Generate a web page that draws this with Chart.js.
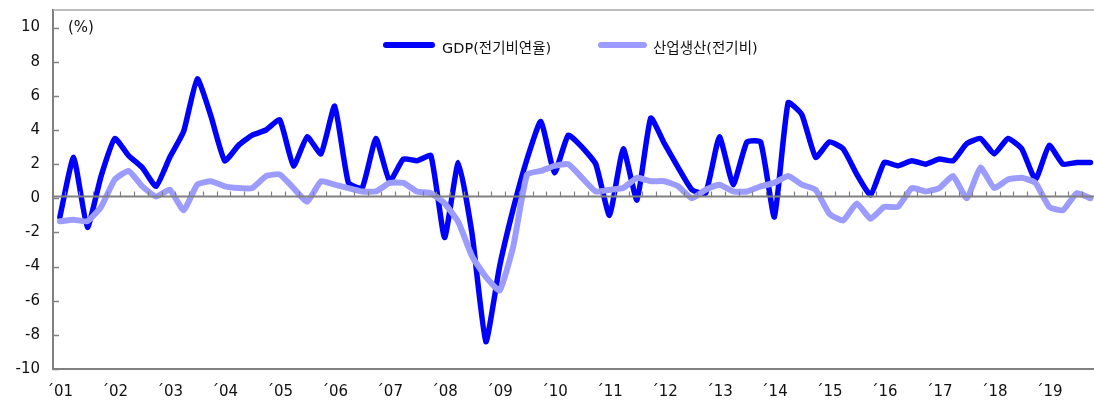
<!DOCTYPE html>
<html>
<head>
<meta charset="utf-8">
<script src="https://cdn.jsdelivr.net/npm/chart.js@4.4.1/dist/chart.umd.min.js"></script>
<style>
  html, body { margin: 0; padding: 0; background: #fff; }
  #wrap { position: relative; width: 1094px; height: 401px; }
  .lbl { position: absolute; font-family: "DejaVu Sans", "Noto Sans CJK KR", sans-serif; color: #111; white-space: nowrap; }
  .swatch { position: absolute; height: 6px; border-radius: 3px; }
</style>
</head>
<body>
<div id="wrap">
  <canvas id="chart" width="1094" height="401"></canvas>
  <div class="lbl" style="left:68px; top:18px; font-size:15px;">(%)</div>
  <div class="swatch" style="left:383px; top:42px; width:52px; background:#0000ff;"></div>
  <div class="lbl" style="left:442px; top:36px; font-size:14.5px;">GDP(전기비연율)</div>
  <div class="swatch" style="left:598px; top:42px; width:49px; background:#9c9cff;"></div>
  <div class="lbl" style="left:653px; top:36px; font-size:14.5px;">산업생산(전기비)</div>
</div>
<script>
// year labels, one per 4 quarters (2001Q1 ~ 2019Q4)
const yearLabels = ['01','02','03','04','05','06','07','08','09','10','11','12','13','14','15','16','17','18','19'];

// GDP, q/q annualized (%)
const gdp = [
  -1.1, 2.4, -1.7, 1.3,
  3.5, 2.5, 1.8, 0.7,
  2.4, 3.9, 7.0, 4.8,
  2.2, 3.1, 3.7, 4.0,
  4.6, 1.9, 3.6, 2.6,
  5.4, 0.9, 0.6, 3.5,
  1.0, 2.3, 2.2, 2.5,
  -2.3, 2.1, -2.1, -8.4,
  -4.0, -0.6, 2.3, 4.5,
  1.5, 3.7, 3.0, 2.0,
  -1.0, 2.9, -0.1, 4.7,
  3.2, 1.8, 0.5, 0.3,
  3.6, 0.8, 3.3, 3.3,
  -1.1, 5.6, 4.9, 2.4,
  3.3, 2.9, 1.4, 0.2,
  2.1, 1.9, 2.2, 2.0,
  2.3, 2.2, 3.2, 3.5,
  2.6, 3.5, 2.9, 1.1,
  3.1, 2.0, 2.1, 2.1
];

// industrial production, q/q (%)
const ip = [
  -1.35, -1.25, -1.35, -0.5,
  1.1, 1.6, 0.7, 0.1,
  0.5, -0.7, 0.8, 1.0,
  0.7, 0.6, 0.6, 1.3,
  1.4, 0.6, -0.2, 1.0,
  0.8, 0.6, 0.4, 0.4,
  0.9, 0.9, 0.4, 0.3,
  -0.3, -1.4, -3.4, -4.6,
  -5.4, -2.8, 1.4, 1.6,
  1.9, 2.0, 1.2, 0.4,
  0.5, 0.6, 1.2, 1.0,
  1.0, 0.7, 0.0, 0.5,
  0.8, 0.4, 0.4, 0.7,
  0.9, 1.3, 0.8, 0.5,
  -0.9, -1.3, -0.3, -1.2,
  -0.5, -0.5, 0.6, 0.4,
  0.6, 1.3, 0.0, 1.8,
  0.6, 1.1, 1.2, 0.9,
  -0.5, -0.7, 0.3, 0.0
];

const yTicks = [-10, -8, -6, -4, -2, 0, 2, 4, 6, 8, 10];

const toPoints = arr => arr.map((v, i) => ({ x: i + 0.5, y: v }));

const frame = {
  id: 'frame',
  afterDatasetsDraw(chart) {
    const { ctx, chartArea, scales } = chart;
    const x = scales.x, y = scales.y;
    ctx.save();
    // top border
    ctx.strokeStyle = '#a8a8a8';
    ctx.lineWidth = 1.5;
    ctx.beginPath();
    ctx.moveTo(chartArea.left, chartArea.top);
    ctx.lineTo(chartArea.right, chartArea.top);
    ctx.stroke();
    // y tick marks (inside)
    ctx.strokeStyle = '#808080';
    ctx.lineWidth = 1.5;
    yTicks.forEach(v => {
      const py = Math.round(y.getPixelForValue(v)) + 0.5;
      ctx.beginPath();
      ctx.moveTo(chartArea.left, py);
      ctx.lineTo(chartArea.left + 6, py);
      ctx.stroke();
    });
    // zero line with quarterly ticks
    const zy = Math.round(y.getPixelForValue(0.13)) + 0.5;
    ctx.lineWidth = 2;
    ctx.beginPath();
    ctx.moveTo(chartArea.left, zy);
    ctx.lineTo(chartArea.right, zy);
    ctx.stroke();
    ctx.lineWidth = 1.2;
    for (let q = 1; q <= gdp.length; q++) {
      const px = Math.round(x.getPixelForValue(q - 0.1)) + 0.5;
      if (px > chartArea.right) break;
      ctx.beginPath();
      ctx.moveTo(px, zy);
      ctx.lineTo(px, zy - 5);
      ctx.stroke();
    }
    ctx.restore();
  }
};

new Chart(document.getElementById('chart').getContext('2d'), {
  type: 'line',
  data: {
    datasets: [{
      label: 'GDP(전기비연율)',
      data: toPoints(gdp),
      borderColor: '#0000ff',
      borderWidth: 5.5,
      pointRadius: 0,
      tension: 0.15,
      borderCapStyle: 'round',
      borderJoinStyle: 'round',
      order: 1
    }, {
      label: '산업생산(전기비)',
      data: toPoints(ip),
      borderColor: '#9c9cff',
      borderWidth: 6,
      pointRadius: 0,
      tension: 0.15,
      borderCapStyle: 'round',
      borderJoinStyle: 'round',
      order: 0
    }]
  },
  options: {
    responsive: false,
    animation: false,
    events: [],
    layout: { padding: { top: 10, right: 0, left: 0, bottom: 0 } },
    plugins: { legend: { display: false }, tooltip: { enabled: false } },
    scales: {
      x: {
        type: 'linear',
        min: 0,
        max: 75.76,
        grid: { display: false, drawTicks: false },
        border: { display: true, color: '#808080', width: 2 },
        afterBuildTicks: s => { s.ticks = yearLabels.map((l, i) => ({ value: i * 4 + 0.5 })); },
        afterFit: s => { s.height = 32; s.paddingLeft = 0; s.paddingRight = 0; },
        ticks: {
          padding: 14,
          maxRotation: 0,
          autoSkip: false,
          color: '#111',
          font: { family: 'DejaVu Sans', size: 15 },
          callback: (v, i) => '\u00B4' + yearLabels[i]
        }
      },
      y: {
        min: -10,
        max: 11.03,
        grid: { display: false, drawTicks: false },
        border: { display: true, color: '#808080', width: 2 },
        afterBuildTicks: s => { s.ticks = yTicks.map(v => ({ value: v })); },
        afterFit: s => { s.width = 53; s.paddingTop = 0; s.paddingBottom = 0; },
        ticks: {
          padding: 13,
          color: '#111',
          font: { family: 'DejaVu Sans', size: 15 }
        }
      }
    }
  },
  plugins: [frame]
});
</script>
</body>
</html>
